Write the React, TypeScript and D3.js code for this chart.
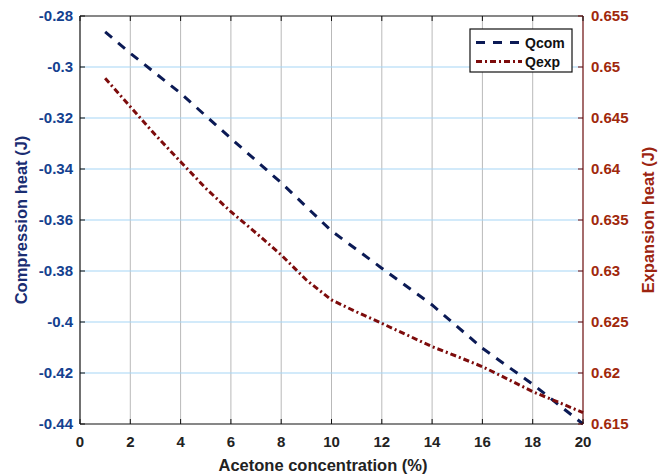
import React from "react";
import * as d3 from "d3";

const xCom = [1, 2, 4, 6, 8, 10, 12, 14, 16, 18, 20];
const qCom = [-0.2862, -0.2946, -0.3103, -0.3280, -0.3454, -0.3643, -0.3789, -0.3933, -0.4103, -0.4244, -0.44];
const xExp = [1, 2, 3, 4, 5, 6, 7, 8, 9, 10, 11, 12, 13, 14, 15, 16, 17, 18, 19, 20];
const qExp = [0.64889, 0.64611, 0.64333, 0.64071, 0.63811, 0.63581, 0.63373, 0.63157, 0.62912, 0.62716,
  0.62598, 0.62487, 0.62373, 0.62258, 0.62162, 0.62062, 0.61941, 0.61817, 0.61716, 0.61611];
const xTicks = [0, 2, 4, 6, 8, 10, 12, 14, 16, 18, 20];
const leftTicks = [-0.28, -0.3, -0.32, -0.34, -0.36, -0.38, -0.4, -0.42, -0.44];
const rightTicks = [0.655, 0.65, 0.645, 0.64, 0.635, 0.63, 0.625, 0.62, 0.615];
const seriesNames = ["Qcom", "Qexp"];

const W = 671, H = 475;
const L = 80, R = 583, T = 16, B = 424;
const font = "'Liberation Sans', Arial, Helvetica, sans-serif";
const blue = "#0b1a55";
const red = "#7d0c0c";
const leftLabelColor = "#14418f";
const rightLabelColor = "#a0280c";

export default function App() {
  const x = d3.scaleLinear().domain([0, 20]).range([L, R]);
  const yL = d3.scaleLinear().domain([-0.44, -0.28]).range([B, T]);
  const yR = d3.scaleLinear().domain([0.615, 0.655]).range([B, T]);
  const lineCom = d3.line<number>().x((_, i) => x(xCom[i])).y((d) => yL(d));
  const lineExp = d3.line<number>().x((_, i) => x(xExp[i])).y((d) => yR(d));
  const tl = 5;
  return (
    <svg width={W} height={H} style={{ position: "absolute", left: 0, top: 0, background: "#fff" }} fontFamily={font}>
      {/* grid */}
      {xTicks.slice(1, -1).map((t) => (
        <line key={"gx" + t} x1={x(t)} x2={x(t)} y1={T} y2={B} stroke="#b9b9b9" strokeWidth={1} />
      ))}
      {leftTicks.slice(1, -1).map((t) => (
        <line key={"gy" + t} x1={L} x2={R} y1={yL(t)} y2={yL(t)} stroke="#a6d5f5" strokeWidth={1.2} />
      ))}
      {/* lines */}
      <path d={lineCom(qCom) || ""} fill="none" stroke={blue} strokeWidth={3} strokeDasharray="9,8" />
      <path d={lineExp(qExp) || ""} fill="none" stroke={red} strokeWidth={3} strokeDasharray="6,3,2,3" />
      {/* axes */}
      <line x1={L} x2={R} y1={B} y2={B} stroke="#111" strokeWidth={1.2} />
      <line x1={L} x2={R} y1={T} y2={T} stroke="#111" strokeWidth={1.2} />
      <line x1={L} x2={L} y1={T} y2={B} stroke="#111" strokeWidth={1.2} />
      <line x1={R} x2={R} y1={T} y2={B} stroke="#6a0a0a" strokeWidth={1.2} />
      {xTicks.map((t) => (
        <g key={"xt" + t}>
          <line x1={x(t)} x2={x(t)} y1={B} y2={B - tl} stroke="#111" />
          <line x1={x(t)} x2={x(t)} y1={T} y2={T + tl} stroke="#111" />
          <text x={x(t)} y={447} textAnchor="middle" fontSize={15} fontWeight="bold" fill="#222">{t}</text>
        </g>
      ))}
      {leftTicks.map((t) => (
        <g key={"lt" + t}>
          <line x1={L} x2={L + tl} y1={yL(t)} y2={yL(t)} stroke="#111" />
          <text x={73} y={yL(t) + 5} textAnchor="end" fontSize={15} fontWeight="bold" fill={leftLabelColor}>{String(t)}</text>
        </g>
      ))}
      {rightTicks.map((t) => (
        <g key={"rt" + t}>
          <line x1={R} x2={R - tl} y1={yR(t)} y2={yR(t)} stroke="#6a0a0a" />
          <text x={591} y={yR(t) + 5} textAnchor="start" fontSize={15} fontWeight="bold" fill={rightLabelColor}>{String(t)}</text>
        </g>
      ))}
      <text x={323} y={471} textAnchor="middle" fontSize={16.5} fontWeight="bold" fill="#222">Acetone concentration (%)</text>
      <text transform={`translate(27,${(T + B) / 2}) rotate(-90)`} textAnchor="middle" fontSize={16.5} fontWeight="bold" fill="#1a2d72">Compression heat (J)</text>
      <text transform={`translate(654,${(T + B) / 2}) rotate(-90)`} textAnchor="middle" fontSize={16.5} fontWeight="bold" fill="#9c2410">Expansion heat (J)</text>
      {/* legend */}
      <rect x={470} y={29} width={102} height={43} fill="#fff" stroke="#111" strokeWidth={1.2} />
      <line x1={476} x2={522} y1={42.5} y2={42.5} stroke={blue} strokeWidth={3} strokeDasharray="9,8" />
      <line x1={476} x2={522} y1={61.5} y2={61.5} stroke={red} strokeWidth={3} strokeDasharray="6,3,2,3" />
      <text x={525} y={47.5} fontSize={14} fontWeight="bold" fill="#111">{seriesNames[0]}</text>
      <text x={525} y={66.5} fontSize={14} fontWeight="bold" fill="#111">{seriesNames[1]}</text>
    </svg>
  );
}
